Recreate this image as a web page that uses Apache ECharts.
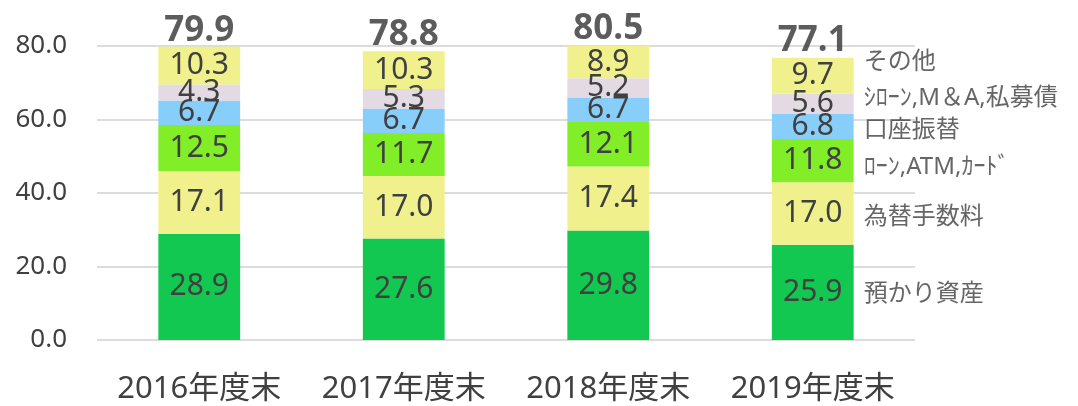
<!DOCTYPE html>
<html>
<head>
<meta charset="utf-8">
<script src="https://cdn.jsdelivr.net/npm/echarts@6/dist/echarts.min.js"></script>
<style>html,body{margin:0;padding:0;background:#fff}#c{width:1078px;height:406px}</style>
</head>
<body>
<div id="c"></div>
<script>
const categories = ['2016年度末', '2017年度末', '2018年度末', '2019年度末'];
const seriesNames = ['預かり資産', '為替手数料', 'ﾛｰﾝ,ATM,ｶｰﾄﾞ', '口座振替', 'ｼﾛｰﾝ,M＆A,私募債', 'その他'];
const deposits   = [28.9, 27.6, 29.8, 25.9];
const exchange   = [17.1, 17.0, 17.4, 17.0];
const loanAtm    = [12.5, 11.7, 12.1, 11.8];
const transfer   = [6.7, 6.7, 6.7, 6.8];
const syndicate  = [4.3, 5.3, 5.2, 5.6];
const others     = [10.3, 10.3, 8.9, 9.7];
const totals     = [79.9, 78.8, 80.5, 77.1];
const yTicks     = [0, 20, 40, 60, 80];

const seriesValues = [deposits, exchange, loanAtm, transfer, syndicate, others];
const colors = ['#13C850', '#F0F08C', '#82EE28', '#87CEFA', '#E4DAE4', '#F0F08C'];
const legendNudge = [2, 4, 6, 4, -6, -13];
const FONT = '"Noto Sans", "Noto Sans CJK JP", sans-serif';
const TXT = '#404040';

const series = seriesValues.map((vals, i) => ({
  name: seriesNames[i],
  type: 'bar',
  stack: 'total',
  barWidth: '40%',
  data: vals,
  itemStyle: { color: colors[i] },
  label: {
    show: true, position: 'inside', color: TXT, fontFamily: FONT, fontSize: 30,
    formatter: p => p.value.toFixed(1)
  },
  emphasis: { disabled: true }
}));

// totals above bars
series.push({
  type: 'scatter',
  data: totals,
  symbolSize: 0,
  clip: false,
  label: {
    show: true, position: 'top', distance: 2, offset: [0, 4], color: '#333', fontFamily: FONT,
    fontSize: 35, fontWeight: 'bold', formatter: p => p.value.toFixed(1)
  },
  z: 5
});

// series names beside the last bar
const last = categories.length - 1;
let cum = 0;
const legendData = seriesValues.map((vals, i) => {
  const center = cum + vals[last] / 2;
  cum += vals[last];
  return {
    value: [categories[last], center],
    name: seriesNames[i],
    label: { offset: [0, legendNudge[i]] }
  };
});
series.push({
  type: 'scatter',
  data: legendData,
  symbolSize: 0,
  clip: false,
  label: {
    show: true, position: 'right', distance: 51, color: TXT, fontFamily: FONT,
    fontSize: 24, formatter: p => p.name
  },
  z: 5
});

const chart = echarts.init(document.getElementById('c'));
chart.setOption({
  animation: false,
  grid: { left: 97, right: 163, top: 46, bottom: 66 },
  xAxis: {
    type: 'category',
    data: categories,
    axisLine: { show: false },
    axisTick: { show: false },
    axisLabel: { interval: 0, hideOverlap: false, color: TXT, fontFamily: FONT, fontSize: 31, margin: 34 }
  },
  yAxis: {
    type: 'value',
    min: yTicks[0], max: yTicks[yTicks.length - 1], interval: yTicks[1] - yTicks[0],
    axisLine: { show: false },
    axisTick: { show: false },
    splitLine: { lineStyle: { color: '#DCDCDC', width: 2 } },
    axisLabel: { color: TXT, fontFamily: FONT, fontSize: 26, margin: 30, formatter: v => v.toFixed(1) }
  },
  series
});
</script>
</body>
</html>
